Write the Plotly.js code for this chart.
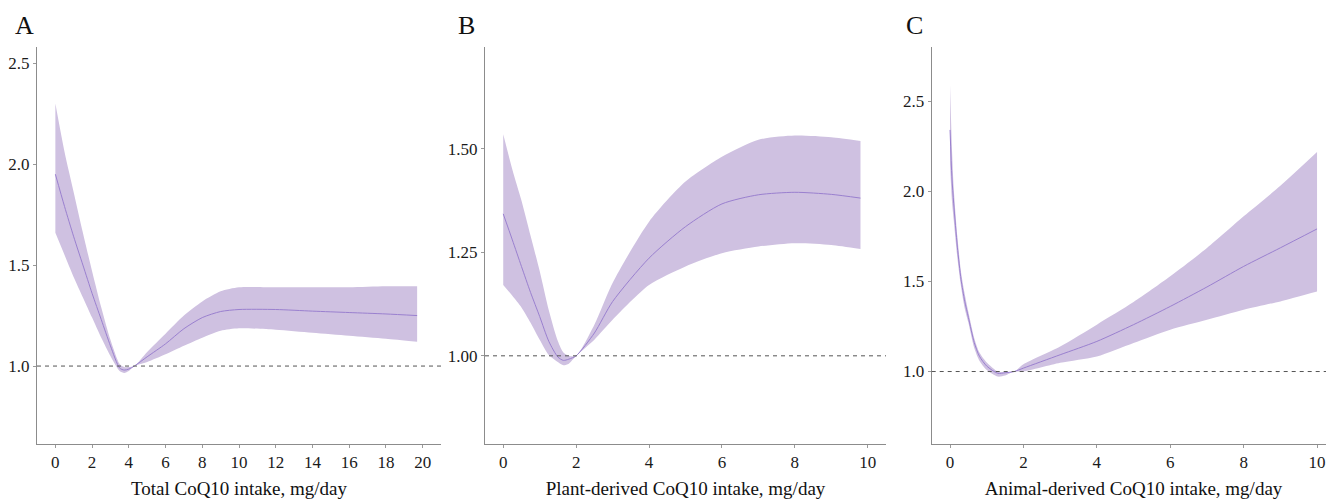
<!DOCTYPE html>
<html>
<head>
<meta charset="utf-8">
<script src="https://cdn.plot.ly/plotly-3.0.1.min.js"></script>
<style>
html,body{margin:0;padding:0;overflow:hidden;background:#fff;}
#chart{width:1340px;height:499px;}
</style>
</head>
<body>
<div id="chart"></div>
<script>
// ---- Panel A: Total CoQ10 intake ----
const xA = [0,0.5,1,1.5,2,2.5,3,3.5,3.75,4,4.3,5,6,7,8,9,10,12,14,16,18,19.7];
const midA = [1.95,1.79,1.64,1.50,1.36,1.23,1.10,0.99,0.98,0.985,1.0,1.046,1.11,1.185,1.24,1.27,1.28,1.28,1.272,1.265,1.258,1.25];
const upA  = [2.30,2.06,1.86,1.66,1.47,1.29,1.13,1.01,0.995,0.995,1.0,1.07,1.16,1.25,1.32,1.37,1.39,1.39,1.39,1.39,1.395,1.395];
const loA  = [1.66,1.55,1.44,1.34,1.24,1.14,1.05,0.975,0.965,0.975,1.0,1.02,1.058,1.10,1.14,1.175,1.187,1.18,1.165,1.15,1.135,1.12];

// ---- Panel B: Plant-derived CoQ10 intake ----
const xB = [0,0.25,0.5,0.75,1,1.25,1.5,1.65,1.8,2,2.5,3,4,5,6,7,8,9,9.8];
const midB = [1.343,1.28,1.216,1.153,1.095,1.035,0.997,0.989,0.992,1.0,1.055,1.131,1.236,1.312,1.367,1.389,1.395,1.39,1.381];
const upB  = [1.535,1.45,1.375,1.29,1.205,1.11,1.035,1.008,1.0,1.0,1.075,1.176,1.324,1.421,1.481,1.522,1.532,1.528,1.519];
const loB  = [1.171,1.145,1.117,1.08,1.039,1.002,0.985,0.977,0.981,1.0,1.039,1.087,1.171,1.216,1.248,1.264,1.272,1.268,1.258];

// ---- Panel C: Animal-derived CoQ10 intake ----
const xC = [0,0.05,0.1,0.2,0.3,0.4,0.5,0.66,0.8,1,1.3,1.5,1.75,2,3,4,5,6,7,8,9,10];
const midC = [2.34,2.08,1.93,1.69,1.51,1.39,1.30,1.16,1.085,1.03,0.99,0.993,1.0,1.019,1.093,1.167,1.26,1.361,1.469,1.583,1.686,1.791];
const upC  = [2.59,2.25,2.02,1.75,1.55,1.43,1.33,1.185,1.105,1.05,1.0,0.998,1.0,1.04,1.139,1.26,1.385,1.528,1.685,1.861,2.03,2.217];
const loC  = [2.15,1.95,1.84,1.63,1.47,1.35,1.27,1.13,1.06,1.008,0.972,0.978,1.0,1.0,1.048,1.083,1.158,1.232,1.287,1.343,1.389,1.444];

const refValue = 1.0;
const panelLetters = ['A','B','C'];
const xTitles = ['Total CoQ10 intake, mg/day','Plant-derived CoQ10 intake, mg/day','Animal-derived CoQ10 intake, mg/day'];
const xTicksA = [0,2,4,6,8,10,12,14,16,18,20];
const xTicksBC = [0,2,4,6,8,10];
const yTicksA = [1.0,1.5,2.0,2.5];
const yTickTextA = ['1.0','1.5','2.0','2.5'];
const yTicksB = [1.00,1.25,1.50];
const yTickTextB = ['1.00','1.25','1.50'];
const yTicksC = [1.0,1.5,2.0,2.5];
const yTickTextC = ['1.0','1.5','2.0','2.5'];

const FILL = '#cfc1e1';
const LINE = '#9a80cf';

function bandLo(x, lo, xa, ya){
  return {x:x, y:lo, xaxis:xa, yaxis:ya, type:'scatter', mode:'lines',
          line:{width:0, color:FILL, shape:'spline', smoothing:0.7}, hoverinfo:'skip', showlegend:false};
}
function bandUp(x, up, xa, ya){
  return {x:x, y:up, xaxis:xa, yaxis:ya, type:'scatter', mode:'lines', fill:'tonexty', fillcolor:FILL,
          line:{width:0, color:FILL, shape:'spline', smoothing:0.7}, hoverinfo:'skip', showlegend:false};
}
function mid(x, y, xa, ya){
  return {x:x, y:y, xaxis:xa, yaxis:ya, type:'scatter', mode:'lines',
          line:{color:LINE, width:1, shape:'spline', smoothing:0.7}, showlegend:false};
}

const data = [
  bandLo(xA, loA, 'x', 'y'), bandUp(xA, upA, 'x', 'y'), mid(xA, midA, 'x', 'y'),
  bandLo(xB, loB, 'x2', 'y2'), bandUp(xB, upB, 'x2', 'y2'), mid(xB, midB, 'x2', 'y2'),
  bandLo(xC, loC, 'x3', 'y3'), bandUp(xC, upC, 'x3', 'y3'), mid(xC, midC, 'x3', 'y3')
];

const W = 1340;
const axBase = {showline:true, linecolor:'#8c8c8c', linewidth:1, ticks:'outside', ticklen:3,
  tickcolor:'#9a9a9a', tickwidth:1, showgrid:false, zeroline:false, fixedrange:true,
  tickfont:{size:17, color:'#1a1a1a'}};
function xax(domain, range, ticks, title, anchor){
  return Object.assign({}, axBase, {domain:domain, range:range, tickvals:ticks, anchor:anchor,
    title:{text:title, font:{size:19, color:'#111'}, standoff:14}});
}
function yax(range, ticks, text, anchor){
  return Object.assign({}, axBase, {domain:[0,1], range:range, tickvals:ticks, ticktext:text, anchor:anchor});
}

const shapes = ['x','x2','x3'].map((xa,i)=>({
  type:'line', xref: xa+' domain', yref: ['y','y2','y3'][i], x0:0, x1:1, y0:refValue, y1:refValue,
  line:{color:'#555', width:1, dash:'4px,4px'}, layer:'above'
}));

const letterX = [24.5, 466.7, 914];
const annotations = panelLetters.map((t,i)=>({
  text:t, xref:'paper', yref:'paper', x: letterX[i]/W, y: 1 + (47-25)/397,
  xanchor:'center', yanchor:'middle', showarrow:false, font:{size:26, color:'#111'}
}));

const layout = {
  width: W, height: 499,
  margin:{l:0, r:0, t:47, b:55},
  paper_bgcolor:'#fff', plot_bgcolor:'#fff',
  font:{family:'"Liberation Serif", "Times New Roman", serif', color:'#111', size:17},
  showlegend:false,
  xaxis: xax([37/W, 441/W], [-1, 21], xTicksA, xTitles[0], 'y'),
  yaxis: yax([0.614, 2.58], yTicksA, yTickTextA, 'x'),
  xaxis2: xax([485/W, 886/W], [-0.5, 10.5], xTicksBC, xTitles[1], 'y2'),
  yaxis2: yax([0.787, 1.746], yTicksB, yTickTextB, 'x2'),
  xaxis3: xax([931.7/W, 1335.4/W], [-0.5, 10.5], xTicksBC, xTitles[2], 'y3'),
  yaxis3: yax([0.598, 2.80], yTicksC, yTickTextC, 'x3'),
  shapes: shapes,
  annotations: annotations
};

Plotly.newPlot('chart', data, layout, {displayModeBar:false, staticPlot:true});
</script>
</body>
</html>
